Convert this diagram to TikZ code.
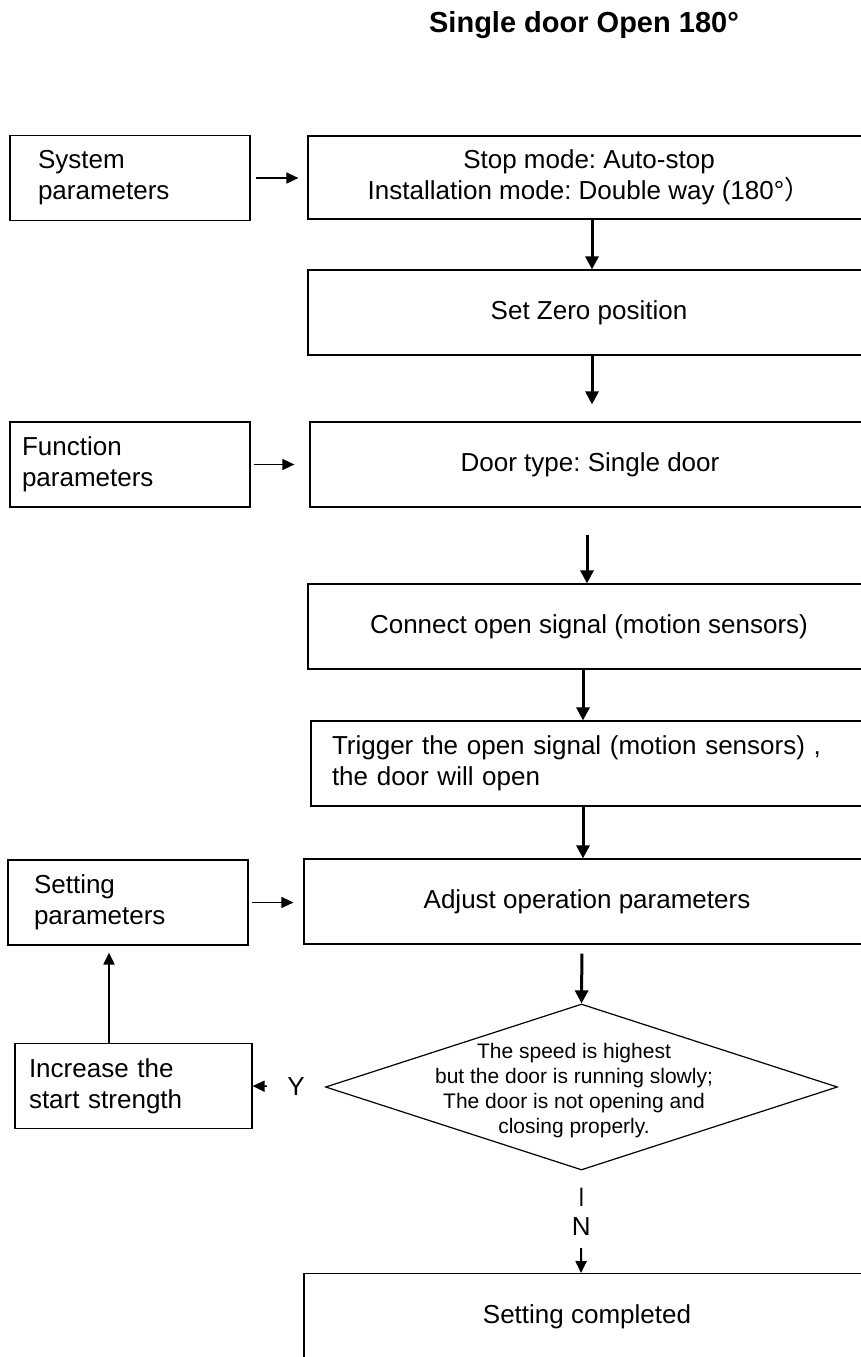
\documentclass[tikz,border=0pt]{standalone}
\usepackage{fontspec}
\setmainfont{Liberation Sans}
\newfontfamily\cjkfont{Noto Sans CJK SC}
\usetikzlibrary{arrows.meta, shapes.geometric, positioning}
\frenchspacing

\tikzset{
  mainbox/.style={draw, line width=1.2pt, minimum height=85pt, inner sep=0pt, align=center, font=\fontsize{26}{31}\selectfont},
  sidebox/.style={draw, line width=1.2pt, minimum height=85pt, inner ysep=0pt, align=left, font=\fontsize{26}{31}\selectfont},
  decision/.style={draw, diamond, line width=1.2pt, inner sep=0pt, minimum width=512pt, minimum height=166pt},
  flow/.style={line width=3pt, -{Triangle[length=13pt,width=13pt]}},
  link/.style={line width=1.5pt, -{Triangle[length=12pt,width=11pt]}}
}

\begin{document}
\begin{tikzpicture}[x=1pt, y=-1pt]
\useasboundingbox (0,0) rectangle (861,1357);
\clip (0,0) rectangle (861,1357);

\node[font=\fontsize{29}{35}\selectfont\bfseries] (title) at (584,25) {Single door Open 180°};

% parameter menus on the left
\node[sidebox, inner xsep=28pt, text width=184pt] (sys) at (130,178) {System\\parameters};
\node[sidebox, inner xsep=12pt, text width=216pt] (func) at (130,464.5) {Function\\parameters};
\node[sidebox, inner xsep=26pt, text width=188pt] (setp) at (128,902.5) {Setting\\parameters};
\node[sidebox, inner xsep=14pt, text width=209pt] (inc) at (133.5,1086) {Increase the\\start strength};

% main steps
\node[mainbox, minimum width=562pt, minimum height=83pt] (b1) at (589,177.5) {Stop mode: Auto-stop\\Installation mode: Double way (180°{\cjkfont ）}};
\node[mainbox, minimum width=562pt] (b2) at (589,312.5) {Set Zero position};
\node[mainbox, minimum width=560pt] (b3) at (590,464.5) {Door type: Single door};
\node[mainbox, minimum width=562pt] (b4) at (589,626.5) {Connect open signal (motion sensors)};
\node[sidebox, inner xsep=21pt, text width=517pt] (b5) at (590.5,763.5) {Trigger the open signal (motion sensors) ,\\the door will open};
\node[mainbox, minimum width=566pt] (b6) at (587,901.5) {Adjust operation parameters};
\node[decision] (chk) at (581.5,1087) {};
\node[align=center, font=\fontsize{21}{25}\selectfont] (chktxt) at (574,1091) {The speed is highest\\but the door is running slowly;\\The door is not opening and\\closing properly.};
\node[mainbox, minimum width=566pt, minimum height=86pt, anchor=north] (done) at (587,1273) {Setting completed};

% arrows
\draw[link, shorten <=5pt, shorten >=9pt] (sys.east) -- (sys.east -| b1.west);
\draw[link, shorten <=3pt, shorten >=15pt] (func.east) -- (func.east -| b3.west);
\draw[link, shorten <=3pt, shorten >=10pt] (setp.east) -- (setp.east -| b6.west);
\draw[flow] ([xshift=3pt]b1.south) -- ([xshift=3pt]b2.north);
\draw[flow, shorten >=17pt] ([xshift=3pt]b2.south) -- ([xshift=2pt]b3.north);
\draw[flow, shorten <=27pt] ([xshift=-3pt]b3.south) -- ([xshift=-2pt]b4.north);
\draw[flow] ([xshift=-6pt]b4.south) -- ([xshift=-7.5pt]b5.north);
\draw[flow] ([xshift=-7.5pt]b5.south) -- ([xshift=-4pt]b6.north);
\draw[flow, shorten <=9pt] ([xshift=-5pt]b6.south) -- (chk.north);
\draw[link, shorten <=58pt] (chk.west) -- node[pos=.4, font=\fontsize{26}{31}\selectfont] (ylab) {Y} (inc.east);
\draw[link, line width=2pt, shorten <=17pt] (chk.south) -- node[pos=.55, fill=white, inner ysep=12pt, font=\fontsize{26}{31}\selectfont] (nlab) {N} ([xshift=-6pt]done.north);
\draw[link, line width=2pt, shorten >=7pt] ([xshift=-24.5pt]inc.north) -- ([xshift=-19pt]setp.south);
\end{tikzpicture}
\end{document}
